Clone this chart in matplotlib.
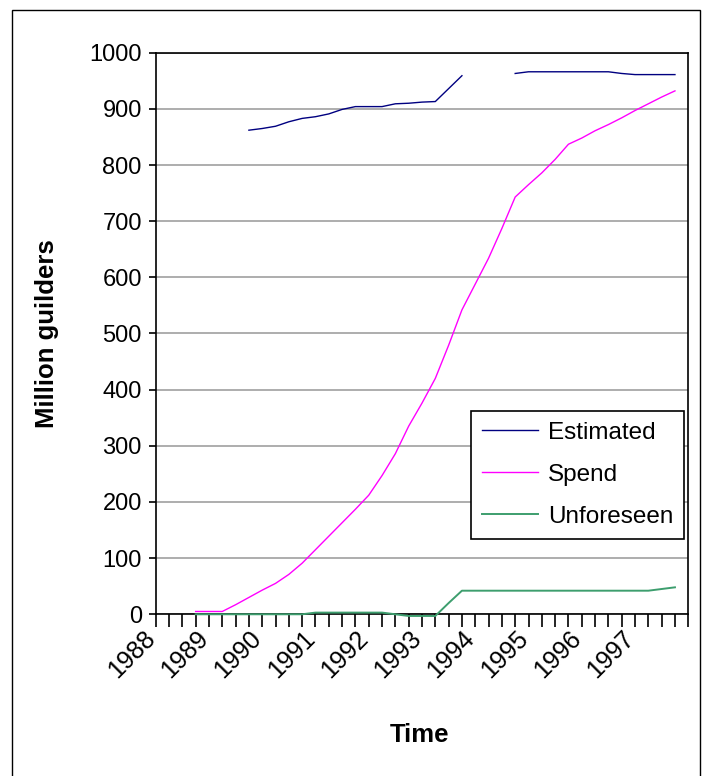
import numpy as np
import matplotlib
matplotlib.use("Agg")
import matplotlib.pyplot as plt
from matplotlib.patches import Rectangle

# ─────────────────────────────────────────────────────────────
# Donnees (trimestres 1988 Q1 .. 1997 Q4, index 0..39)
# ─────────────────────────────────────────────────────────────
year_labels = ["1988", "1989", "1990", "1991", "1992",
               "1993", "1994", "1995", "1996", "1997"]

nan = np.nan
estimated = [nan, nan, nan, nan, nan, nan, nan, 862, 865, 869,
             877, 883, 886, 891, 899, 904, 904, 904, 909, 910,
             912, 913, 936, 959, nan, nan, nan, 963, 966, 966,
             966, 966, 966, 966, 966, 963, 961, 961, 961, 961]

spend = [nan, nan, nan, 5, 5, 5, 17, 30, 43, 55,
         71, 91, 115, 139, 163, 187, 212, 247, 286, 335,
         376, 420, 479, 542, 588, 634, 687, 743, 765, 786,
         810, 837, 848, 861, 872, 884, 897, 909, 921, 932]

unforeseen = [nan, nan, nan, 0, 0, 0, 0, 0, 0, 0,
              0, 0, 3, 3, 3, 3, 3, 3, 0, -3,
              -3, -3, 20, 42, 42, 42, 42, 42, 42, 42,
              42, 42, 42, 42, 42, 42, 42, 42, 45, 48]

x = np.arange(len(spend))

plt.rcParams["font.family"] = ["Liberation Sans", "DejaVu Sans"]

fig = plt.figure(figsize=(7.10, 7.76), dpi=100)
ax = fig.add_axes([0.2193, 0.2084, 0.7501, 0.7237])

# cadre exterieur du graphique
fig.patches.append(Rectangle((12 / 710, -0.01), 688 / 710, 1 - 10 / 776 + 0.01,
                             transform=fig.transFigure, fill=False,
                             edgecolor="black", linewidth=1.0))

ax.plot(x, estimated, color="#000080", lw=1.0, label="Estimated",
        zorder=4, clip_on=False)
ax.plot(x, spend, color="#FF00FF", lw=1.0, label="Spend",
        zorder=4, clip_on=False)
ax.plot(x, unforeseen, color="#3d9e6e", lw=1.4, label="Unforeseen",
        zorder=4, clip_on=False)

ax.set_xlim(0, 40)
ax.set_ylim(0, 1000)
ax.set_yticks(np.arange(0, 1001, 100))
ax.yaxis.grid(True, color="#a0a0a0", linewidth=1.2)
ax.set_axisbelow(True)

ax.set_xticks(np.arange(0, 41))
ax.set_xticklabels([""] * 41)
for k, lab in enumerate(year_labels):
    ax.text(k * 4 + 0.3, -22, lab, rotation=45, ha="right", va="top",
            fontsize=18, transform=ax.transData, clip_on=False)

ax.tick_params(axis="x", length=9, width=1.2, direction="out")
ax.tick_params(axis="y", length=5, width=1.2, direction="out", labelsize=17, pad=5)
for s in ax.spines.values():
    s.set_color("black")
    s.set_linewidth(1.2)

ax.set_ylabel("Million guilders", fontsize=18.5, fontweight="bold", labelpad=22)
fig.text(420 / 710, 1 - 735 / 776, "Time", fontsize=18.5, fontweight="bold",
         ha="center", va="center")

leg = ax.legend(loc="upper left", bbox_to_anchor=(0.592, 0.362),
                borderaxespad=0, fontsize=17.5, frameon=True, fancybox=False,
                edgecolor="black", handlelength=2.3, labelspacing=0.82,
                borderpad=0.45, handletextpad=0.42)
leg.get_frame().set_linewidth(1.2)
leg.get_frame().set_alpha(1)

fig.savefig("out.png", dpi=100)
